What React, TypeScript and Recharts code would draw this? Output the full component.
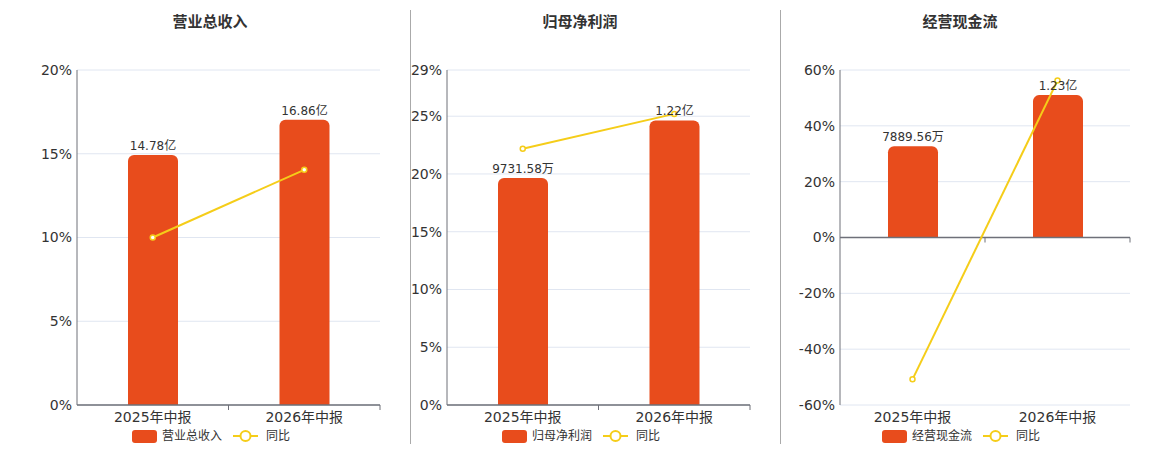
import React from 'react';
import {
  ComposedChart, Bar, Line, XAxis, YAxis, CartesianGrid, ReferenceLine, LabelList,
} from 'recharts';

const categories = ['2025年中报', '2026年中报'];

// Panel 1: 营业总收入 (亿) and 同比 (%)
const revenueValues = [14.78, 16.86];
const revenueLabels = ['14.78亿', '16.86亿'];
const revenueYoy = [10.0, 14.04];
const revenueTicks = [0, 5, 10, 15, 20];

// Panel 2: 归母净利润 (亿) and 同比 (%)
const profitValues = [0.973158, 1.22];
const profitLabels = ['9731.58万', '1.22亿'];
const profitYoy = [22.18, 25.2];
const profitTicks = [0, 5, 10, 15, 20, 25, 29];

// Panel 3: 经营现金流 (亿) and 同比 (%)
const cashValues = [0.788956, 1.23];
const cashLabels = ['7889.56万', '1.23亿'];
const cashYoy = [-50.8, 56.2];
const cashTicks = [-60, -40, -20, 0, 20, 40, 60];

const FONT = "'DejaVu Sans', 'Noto Sans CJK SC', sans-serif";
const BAR_COLOR = '#e84c1c';
const LINE_COLOR = '#f5cd19';
const AXIS_COLOR = '#6e7079';
const GRID_COLOR = '#e0e6f1';
const TEXT_COLOR = '#333';

const buildRows = (values: number[], labels: string[], yoy: number[]) =>
  categories.map((c, i) => ({ name: c, value: values[i], label: labels[i], yoy: yoy[i] }));

const AxisWithTicks = (props: any) => {
  const { x1, x2, y1 } = props;
  const mid = (x1 + x2) / 2;
  return (
    <g>
      <line x1={x1} x2={x2} y1={y1} y2={y1} stroke={AXIS_COLOR} strokeWidth={1.5} />
      <line x1={mid} x2={mid} y1={y1} y2={y1 + 5} stroke={AXIS_COLOR} strokeWidth={1} />
      <line x1={x2} x2={x2} y1={y1} y2={y1 + 5} stroke={AXIS_COLOR} strokeWidth={1} />
    </g>
  );
};

type PanelProps = {
  left: number;
  width: number;
  yWidth: number;
  rows: any[];
  ticks: number[];
  barDomain: [number, number];
  title: string;
  titleCenter: number;
  legendName: string;
};

const Panel = ({ left, width, yWidth, rows, ticks, barDomain, title, titleCenter, legendName }: PanelProps) => {
  return (
    <>
      <div
        style={{
          position: 'absolute', left: titleCenter - 100, width: 200, top: 12, textAlign: 'center',
          fontFamily: FONT, fontSize: 15, fontWeight: 'bold', color: TEXT_COLOR, lineHeight: '20px',
        }}
      >
        {title}
      </div>
      <div style={{ position: 'absolute', left, top: 0 }}>
        <ComposedChart
          width={width}
          height={450}
          data={rows}
          margin={{ top: 70, right: 20, bottom: 15, left: 0 }}
          style={{ fontFamily: FONT }}
        >
          <CartesianGrid yAxisId="pct" vertical={false} stroke={GRID_COLOR} />
          <XAxis
            dataKey="name"
            axisLine={false}
            tickLine={false}
            height={30}
            tickSize={5}
            tickMargin={2}
            tick={{ fill: TEXT_COLOR, fontSize: 14 }}
            interval={0}
          />
          <YAxis
            yAxisId="pct"
            orientation="left"
            width={yWidth}
            domain={[ticks[0], ticks[ticks.length - 1]]}
            ticks={ticks}
            interval={0}
            axisLine={{ stroke: AXIS_COLOR }}
            tickLine={false}
            tickSize={0}
            tickMargin={5}
            tickFormatter={(v: number) => `${v}%`}
            tick={{ fill: TEXT_COLOR, fontSize: 14 }}
          />
          <YAxis yAxisId="bar" orientation="right" width={0} hide domain={barDomain} allowDataOverflow />
          <Bar yAxisId="bar" dataKey="value" fill={BAR_COLOR} barSize={50} radius={[6, 6, 0, 0]} isAnimationActive={false}>
            <LabelList dataKey="label" position="top" offset={5} fill={TEXT_COLOR} fontSize={12} />
          </Bar>
          <ReferenceLine yAxisId="pct" y={0} shape={AxisWithTicks} />
          <Line
            yAxisId="pct"
            dataKey="yoy"
            stroke={LINE_COLOR}
            strokeWidth={2}
            dot={{ r: 2.5, fill: '#fff', stroke: LINE_COLOR, strokeWidth: 1.5 }}
            activeDot={false}
            isAnimationActive={false}
          />
        </ComposedChart>
      </div>
      <div
        style={{
          position: 'absolute', left: titleCenter - 78, top: 428, height: 16, display: 'flex', alignItems: 'center',
          fontFamily: FONT, fontSize: 12, color: TEXT_COLOR,
        }}
      >
        <div style={{ width: 25, height: 13, background: BAR_COLOR, borderRadius: 3 }} />
        <span style={{ marginLeft: 5, lineHeight: '16px' }}>{legendName}</span>
        <svg width={25} height={16} style={{ marginLeft: 11 }}>
          <line x1={0} x2={25} y1={8} y2={8} stroke={LINE_COLOR} strokeWidth={2} />
          <circle cx={12.5} cy={8} r={5} fill="#fff" stroke={LINE_COLOR} strokeWidth={2} />
        </svg>
        <span style={{ marginLeft: 8, lineHeight: '16px' }}>同比</span>
      </div>
    </>
  );
};

export default function App() {
  return (
    <div style={{ position: 'absolute', left: 0, top: 0, width: 1160, height: 450, background: '#fff', overflow: 'hidden' }}>
      <Panel
        left={0} width={400} yWidth={77}
        rows={buildRows(revenueValues, revenueLabels, revenueYoy)}
        ticks={revenueTicks} barDomain={[0, 19.8]}
        title="营业总收入" titleCenter={210} legendName="营业总收入"
      />
      <div style={{ position: 'absolute', left: 410, top: 10, width: 1, height: 434, background: '#aaa' }} />
      <Panel
        left={370} width={400} yWidth={77}
        rows={buildRows(profitValues, profitLabels, profitYoy)}
        ticks={profitTicks} barDomain={[0, 1.436]}
        title="归母净利润" titleCenter={580} legendName="归母净利润"
      />
      <div style={{ position: 'absolute', left: 780, top: 10, width: 1, height: 434, background: '#aaa' }} />
      <Panel
        left={740} width={410} yWidth={100}
        rows={buildRows(cashValues, cashLabels, cashYoy)}
        ticks={cashTicks} barDomain={[-1.447, 1.447]}
        title="经营现金流" titleCenter={960} legendName="经营现金流"
      />
    </div>
  );
}
